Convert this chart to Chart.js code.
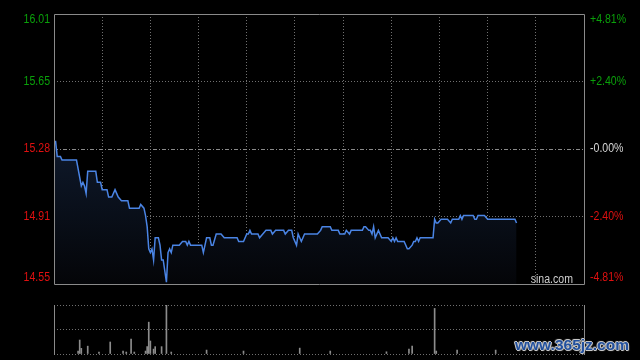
<!DOCTYPE html>
<html><head><meta charset="utf-8">
<script src="https://cdn.jsdelivr.net/npm/chart.js@4.4.1/dist/chart.umd.min.js"></script>
<style>
html,body{margin:0;padding:0;background:#000;width:640px;height:360px;overflow:hidden;}
#c1{position:absolute;left:0;top:0;}
#c2{position:absolute;left:0;top:300px;}
#wm{position:absolute;left:515px;top:336px;font:bold 15.5px 'Liberation Sans',Arial,sans-serif;color:#22509e;
text-shadow:1px 0 0 #c8c8c8,-1px 0 0 #c8c8c8,0 1px 0 #c8c8c8,0 -1px 0 #c8c8c8,1px 1px 1px #888,-1px -1px 1px #888;white-space:nowrap;}
</style></head>
<body>
<canvas id="c1" width="640" height="300"></canvas>
<canvas id="c2" width="640" height="60"></canvas>
<div id="wm">www.365jz.com</div>
<script>
// ---- data ----
const prevClose = 15.28;
const priceTickValues = [14.55, 14.915, 15.28, 15.645, 16.01];
const priceTickLabels = ['14.55', '14.91', '15.28', '15.65', '16.01'];
const pctTickLabels = ['-4.81%', '-2.40%', '-0.00%', '+2.40%', '+4.81%'];

const priceMinutes = [0,1,2,4,5,14,17,18,19,20,21,26,27,29,30,33,34,36,38,39,40,42,46,47,53,54,56,57,58,59,60,61,62,63,65,66,67,68,70,71,72,73,74,78,80,82,83,84,85,92,93,95,97,98,99,101,104,106,114,115,118,120,121,122,123,127,128,130,132,135,136,138,143,144,146,148,149,151,152,154,156,164,166,167,172,173,177,178,181,182,184,185,192,193,194,196,197,198,199,200,202,204,208,210,211,212,213,214,218,220,221,223,224,225,226,227,228,236,237,238,239,241,245,247,248,252,253,254,255,261,262,263,264,268,270,287,288];
const priceValues = [15.32,15.32,15.24,15.24,15.22,15.22,15.08,15.10,15.08,15.04,15.16,15.16,15.10,15.10,15.06,15.06,15.02,15.02,15.06,15.04,15.02,15.00,15.00,14.96,14.96,14.98,14.96,14.92,14.86,14.74,14.72,14.74,14.68,14.80,14.80,14.76,14.68,14.68,14.56,14.72,14.74,14.72,14.76,14.76,14.78,14.78,14.76,14.78,14.76,14.76,14.72,14.80,14.80,14.76,14.76,14.82,14.82,14.80,14.80,14.78,14.78,14.82,14.82,14.84,14.82,14.82,14.80,14.82,14.84,14.84,14.82,14.84,14.84,14.82,14.84,14.84,14.80,14.76,14.82,14.78,14.82,14.82,14.84,14.86,14.86,14.84,14.84,14.82,14.82,14.84,14.82,14.84,14.84,14.86,14.86,14.84,14.84,14.82,14.86,14.80,14.84,14.80,14.80,14.78,14.80,14.78,14.80,14.78,14.78,14.74,14.74,14.76,14.78,14.78,14.80,14.78,14.80,14.80,14.90,14.88,14.88,14.90,14.90,14.88,14.90,14.90,14.92,14.90,14.92,14.92,14.90,14.90,14.92,14.92,14.90,14.90,14.88];

const volMinutes = [15,16,17,21,28,35,43,45,48,50,57,58,59,60,62,63,67,70,73,95,118,153,172,207,221,223,237,238,251,275];
const volValues  = [12,57,23,32,8,49,12,8,61,8,12,30,130,53,20,30,30,260,8,16,12,24,12,9,20,32,186,12,16,16];

// ---- style ----
const FONT = "'Liberation Sans',Arial,sans-serif";
const SX = 0.88; // narrow glyph look of the original
const GREEN = '#0aa00a', RED = '#e01010', NEUTRAL = '#d8d8d8';
const GRID = '#707070', FRAME = '#8a8a8a';
const lo = priceTickValues[0], hi = priceTickValues[priceTickValues.length - 1];

function drawNarrow(ctx, text, x, y, align) {
  ctx.save();
  ctx.translate(x, y);
  ctx.scale(SX, 1);
  ctx.textAlign = align;
  ctx.fillText(text, 0, 0);
  ctx.restore();
}

const frame = {
  id: 'frame',
  afterDraw(chart, args, opts) {
    const a = chart.chartArea, ctx = chart.ctx;
    ctx.save();
    ctx.strokeStyle = FRAME; ctx.lineWidth = 1;
    ctx.beginPath();
    if (opts.full) {
      ctx.rect(a.left + 0.5, a.top + 0.5, a.right - a.left, a.bottom - a.top);
    } else {
      ctx.moveTo(a.left + 0.5, a.top); ctx.lineTo(a.left + 0.5, a.bottom + 1);
      ctx.moveTo(a.right + 0.5, a.top); ctx.lineTo(a.right + 0.5, a.bottom + 1);
    }
    ctx.stroke();
    if (opts.labels) {
      ctx.font = '12px ' + FONT;
      ctx.textBaseline = 'middle';
      const ys = chart.scales.y;
      priceTickValues.forEach((v, i) => {
        let py = ys.getPixelForValue(v);
        if (v === hi) py += 6;
        if (v === lo) py -= 6;
        ctx.fillStyle = v > prevClose ? GREEN : RED;
        drawNarrow(ctx, priceTickLabels[i], a.left - 4, py, 'right');
        ctx.fillStyle = v > prevClose ? GREEN : (v < prevClose ? RED : NEUTRAL);
        drawNarrow(ctx, pctTickLabels[i], a.right + 6, py, 'left');
      });
    }
    if (opts.brand) {
      ctx.fillStyle = '#cfcfcf';
      ctx.font = '12px ' + FONT;
      ctx.textBaseline = 'alphabetic';
      drawNarrow(ctx, opts.brand, a.right - 11, a.bottom - 1.5, 'right');
    }
    ctx.restore();
  }
};

new Chart(document.getElementById('c1'), {
  type: 'line',
  data: {
    datasets: [{
      data: priceMinutes.map((m, i) => ({ x: m, y: priceValues[i] })),
      borderColor: '#4a84e4',
      borderWidth: 1.5,
      pointRadius: 0,
      tension: 0,
      fill: 'start',
      backgroundColor: (ctx) => {
        const a = ctx.chart.chartArea;
        if (!a) return 'rgba(0,0,0,0)';
        const g = ctx.chart.ctx.createLinearGradient(0, a.top + 120, 0, a.bottom);
        g.addColorStop(0, '#0f1a2d');
        g.addColorStop(1, '#040508');
        return g;
      }
    }]
  },
  options: {
    responsive: false, animation: false, events: [],
    layout: { padding: { top: 14, bottom: 16, left: 0, right: 0 } },
    plugins: { legend: { display: false }, tooltip: { enabled: false }, frame: { full: true, labels: true, brand: 'sina.com' } },
    scales: {
      x: {
        type: 'linear', min: 0, max: 330,
        ticks: { display: false, stepSize: 30 },
        grid: { drawTicks: false, color: (c) => (c.tick && (c.tick.value <= 0 || c.tick.value >= 330)) ? 'rgba(0,0,0,0)' : GRID },
        border: { display: false, dash: [1, 2] },
        afterFit: (s) => { s.height = 0; }
      },
      y: {
        position: 'left', min: lo, max: hi,
        afterBuildTicks: (s) => { s.ticks = priceTickValues.map(v => ({ value: v })); },
        ticks: { display: false },
        grid: { drawTicks: false, color: (c) => (c.tick && (c.tick.value === lo || c.tick.value === hi)) ? 'rgba(0,0,0,0)' : (c.tick && c.tick.value === prevClose ? '#8a8a8a' : GRID) },
        border: { display: false, dash: (c) => (c.tick && c.tick.value === prevClose) ? [4, 2, 1, 2] : [1, 2] },
        afterFit: (s) => { s.width = 54; }
      },
      y2: {
        position: 'right', min: lo, max: hi,
        ticks: { display: false },
        grid: { display: false, drawTicks: false },
        border: { display: false },
        afterFit: (s) => { s.width = 56; }
      }
    }
  },
  plugins: [frame]
});

new Chart(document.getElementById('c2'), {
  type: 'bar',
  data: {
    datasets: [{
      data: volMinutes.map((m, i) => ({ x: m, y: volValues[i] })),
      backgroundColor: '#8c8c8c',
      borderWidth: 0,
      barThickness: 1,
      clip: 0
    }]
  },
  options: {
    responsive: false, animation: false, events: [],
    layout: { padding: { top: 5, bottom: 6, left: 0, right: 56 } },
    plugins: { legend: { display: false }, tooltip: { enabled: false }, frame: { full: false } },
    scales: {
      x: { type: 'linear', min: 0, max: 330, display: false, offset: false },
      y: {
        min: 0, max: 200,
        ticks: { display: false, stepSize: 100 },
        grid: { drawTicks: false, color: GRID },
        border: { display: false, dash: [1, 2] },
        afterFit: (s) => { s.width = 54; }
      }
    }
  },
  plugins: [frame]
});
</script>
</body></html>
